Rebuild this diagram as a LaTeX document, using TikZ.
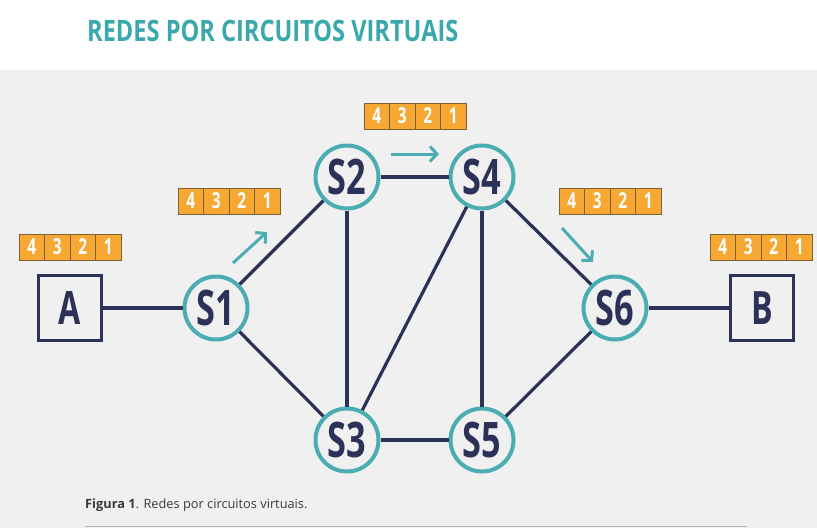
\documentclass[tikz,border=0pt]{standalone}
\usepackage{fontspec}
\setmainfont{Open Sans}
\newfontfamily\condfont[FakeStretch=0.7]{Open Sans}
\newfontfamily\titlefont[FakeStretch=0.8]{Open Sans}
\usetikzlibrary{arrows.meta}
\definecolor{navy}{HTML}{2C3157}
\definecolor{tealc}{HTML}{4AADB2}
\definecolor{titlec}{HTML}{3AA8AC}
\definecolor{bgc}{HTML}{F0F0F0}
\definecolor{pktc}{HTML}{F6A833}
\definecolor{pktb}{HTML}{7A6235}
\definecolor{capc}{HTML}{3A3A3A}
\tikzset{
  switchnode/.style={circle, draw=tealc, line width=4pt, fill=bgc, minimum size=63pt, inner sep=0pt,
    text=navy, font=\condfont\bfseries\fontsize{49}{49}\selectfont},
  hostnode/.style={rectangle, draw=navy, line width=3.5pt, fill=bgc, minimum width=63pt, minimum height=65pt,
    inner sep=0pt, text=navy, font=\condfont\bfseries\fontsize{46}{46}\selectfont},
  link/.style={draw=navy, line width=3.2pt},
  cell/.style={rectangle, draw=pktb, line width=1pt, fill=pktc, minimum width=25.5pt, minimum height=26pt,
    inner sep=0pt, text=white, font=\condfont\bfseries\fontsize{22}{22}\selectfont},
  flow/.style={draw=tealc, line width=3pt, -{Straight Barb[length=7pt,width=15pt,line width=3pt]}}
}
\newcommand\pkt[3]{%
  \node[cell] (#1a) at (#2+12.75,#3+13) {4};
  \node[cell] (#1b) at (#2+38.25,#3+13) {3};
  \node[cell] (#1c) at (#2+63.75,#3+13) {2};
  \node[cell] (#1d) at (#2+89.25,#3+13) {1};
}
\begin{document}
\begin{tikzpicture}[x=1pt,y=-1pt]
\useasboundingbox (0,0) rectangle (817,528);
\fill[white] (0,0) rectangle (817,70);
\fill[bgc] (0,70) rectangle (817,528);
\node[anchor=west, text=titlec, font=\titlefont\bfseries\fontsize{29.5}{29.5}\selectfont, inner sep=0pt] (title) at (87,31) {REDES POR CIRCUITOS VIRTUAIS};

% nodes
\node[hostnode] (A) at (70,308) {A};
\node[hostnode] (B) at (762,308) {B};
\node[switchnode] (S1) at (216,308) {S1};
\node[switchnode] (S2) at (347,177) {S2};
\node[switchnode] (S4) at (482,177) {S4};
\node[switchnode] (S3) at (347,440) {S3};
\node[switchnode] (S5) at (482,440) {S5};
\node[switchnode] (S6) at (615,308) {S6};

% links
\draw[link] (A) -- (S1);
\draw[link] (S1) -- (S2);
\draw[link] (S1) -- (S3);
\draw[link] (S2) -- (S4);
\draw[link] (S2) -- (S3);
\draw[link] (S4) -- (S3);
\draw[link] (S4) -- (S5);
\draw[link] (S4) -- (S6);
\draw[link] (S3) -- (S5);
\draw[link] (S5) -- (S6);
\draw[link] (S6) -- (B);

% packets
\pkt{pA}{19}{234}
\pkt{pS1}{178}{188}
\pkt{pS2}{364}{103}
\pkt{pS6}{559}{188}
\pkt{pB}{710}{234}

% flow arrows
\coordinate (f1s) at (233,263);
\coordinate (f1e) at (267,232);
\coordinate (f2s) at (391,154);
\coordinate (f2e) at (439,154);
\coordinate (f3s) at (562,228);
\coordinate (f3e) at (593,262);
\draw[flow] (f1s) -- (f1e);
\draw[flow] (f2s) -- (f2e);
\draw[flow] (f3s) -- (f3e);

% caption
\node[anchor=west, text=capc, font=\fontsize{12.8}{13}\selectfont, inner sep=0pt] (cap) at (85,505)
  {\textbf{Figura 1}. Redes por circuitos virtuais.};
\coordinate (l1) at (85,526.5);
\coordinate (l2) at (747,526.5);
\draw[draw=black!28, line width=1.2pt] (l1) -- (l2);
\end{tikzpicture}
\end{document}
